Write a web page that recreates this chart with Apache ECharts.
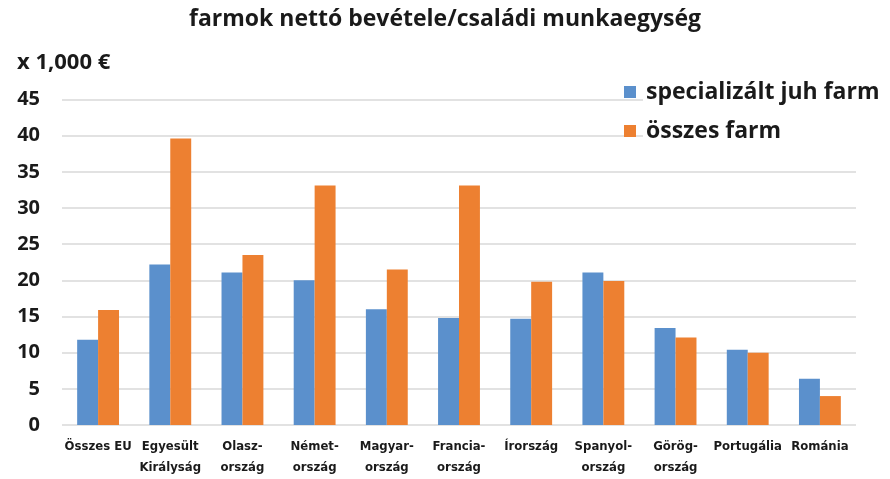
<!DOCTYPE html>
<html>
<head>
<meta charset="utf-8">
<script src="https://cdn.jsdelivr.net/npm/echarts@6/dist/echarts.min.js"></script>
<style>
  html, body { margin: 0; padding: 0; background: #fff; }
  #chart { width: 890px; height: 479px; }
</style>
</head>
<body>
<div id="chart"></div>
<script>
const categories = ['Összes EU', 'Egyesült\nKirályság', 'Olasz-\nország', 'Német-\nország', 'Magyar-\nország',
  'Francia-\nország', 'Írország', 'Spanyol-\nország', 'Görög-\nország', 'Portugália', 'Románia']
const juhFarm = [11.8, 22.2, 21.1, 20.0, 16.0, 14.8, 14.7, 21.1, 13.4, 10.4, 6.4]
const osszesFarm = [15.9, 39.6, 23.5, 33.1, 21.5, 33.1, 19.8, 19.9, 12.1, 10.0, 4.0]

const narrow = "'DejaVu Sans Condensed', 'Liberation Sans Narrow', 'Roboto Condensed', Roboto, sans-serif"

const chart = echarts.init(document.getElementById('chart'))
chart.setOption({
  animation: false,
  title: [
    {
      text: 'farmok nettó bevétele/családi munkaegység',
      left: 'center', top: 3,
      textStyle: { fontFamily: 'Open Sans', fontWeight: 'bold', fontSize: 23, color: '#1a1a1a' }
    },
    {
      text: 'x 1,000 €',
      left: 12, top: 47,
      textStyle: { fontFamily: 'Open Sans', fontWeight: 'bold', fontSize: 22, color: '#1a1a1a' }
    }
  ],
  // white box behind the legend hides the grid lines there
  graphic: [{
    type: 'rect', z: 1,
    shape: { x: 643, y: 80, width: 230, height: 62 },
    style: { fill: '#fff' }
  }],
  legend: {
    orient: 'vertical',
    left: 624, top: 79,
    padding: 0,
    icon: 'rect',
    itemWidth: 12, itemHeight: 12,
    itemGap: 13,
    textStyle: { fontFamily: 'Open Sans', fontWeight: 'bold', fontSize: 23, color: '#1a1a1a', lineHeight: 26, padding: [0, 0, 0, 5] },
    data: ['specializált juh farm', 'összes farm']
  },
  grid: { left: 62, right: 34, top: 99.5, bottom: 54 },
  xAxis: {
    type: 'category',
    data: categories,
    axisLine: { show: false },
    axisTick: { show: false },
    axisLabel: {
      interval: 0, margin: 11,
      fontFamily: narrow, fontWeight: 'bold', fontSize: 13, color: '#1a1a1a', lineHeight: 21
    }
  },
  yAxis: {
    type: 'value',
    min: 0, max: 45, interval: 5,
    axisLabel: { margin: 22, fontFamily: 'Open Sans', fontWeight: 'bold', fontSize: 20, color: '#1a1a1a' },
    splitLine: { lineStyle: { color: '#d9d9d9', width: 1.5 } }
  },
  series: [
    {
      name: 'specializált juh farm', type: 'bar', data: juhFarm,
      itemStyle: { color: '#5b90cc' }, barGap: 0, barCategoryGap: '42%'
    },
    {
      name: 'összes farm', type: 'bar', data: osszesFarm,
      itemStyle: { color: '#ed8031' }
    }
  ]
})
</script>
</body>
</html>
